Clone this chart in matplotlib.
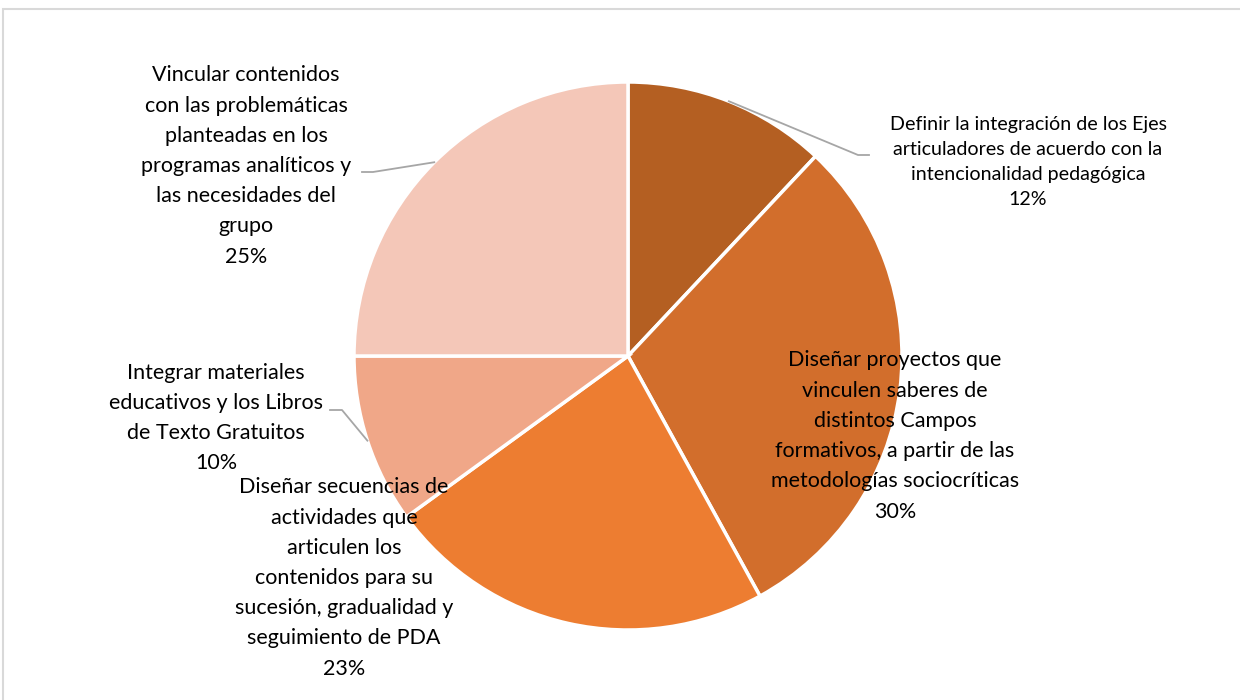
import numpy as np
import matplotlib
matplotlib.use("Agg")
import matplotlib.pyplot as plt
from matplotlib.patches import Rectangle

plt.rcParams['font.family'] = ['Lato', 'DejaVu Sans']

# data
labels = [
    "Definir la integración de los Ejes\narticuladores de acuerdo con la\nintencionalidad pedagógica",
    "Diseñar proyectos que\nvinculen saberes de\ndistintos Campos\nformativos, a partir de las\nmetodologías sociocríticas",
    "Diseñar secuencias de\nactividades que\narticulen los\ncontenidos para su\nsucesión, gradualidad y\nseguimiento de PDA",
    "Integrar materiales\neducativos y los Libros\nde Texto Gratuitos",
    "Vincular contenidos\ncon las problemáticas\nplanteadas en los\nprogramas analíticos y\nlas necesidades del\ngrupo",
]
values = [12, 30, 23, 10, 25]
colors = ["#B45F22", "#D26E2C", "#ED7D31", "#F0A788", "#F4C7B8"]

# label layout (pixel coords, y measured from top)
label_pos = [(1028, 162), (895, 436), (344, 578), (216, 418), (246, 166)]
label_size = [14.1, 15.5, 15.5, 15.5, 15.5]
label_ls = [1.56, 1.64, 1.64, 1.64, 1.64]
# leader elbows (None = no leader)
elbows = [[(858, 155), (869, 155)], None, None,
          [(342, 410), (330, 410)], [(373, 172), (362, 172)]]

W, H = 1240, 700
cx, cy, R = 628, 356, 274

fig = plt.figure(figsize=(12.4, 7), dpi=100)
ax = fig.add_axes([0, 0, 1, 1])
ax.axis("off")

wedges, _ = ax.pie(values, colors=colors, startangle=90, counterclock=False,
                   center=(cx, H - cy), radius=R,
                   wedgeprops=dict(edgecolor="white", linewidth=2.5))
ax.set_xlim(0, W)
ax.set_ylim(0, H)
ax.set_aspect("auto")

for i, w in enumerate(wedges):
    txt = labels[i] + "\n%d%%" % values[i]
    x, y = label_pos[i]
    ax.text(x, H - y, txt, ha="center", va="center", multialignment="center",
            fontsize=label_size[i], color="black", linespacing=label_ls[i], zorder=5)
    if elbows[i] is not None:
        ang = np.deg2rad((w.theta1 + w.theta2) / 2)
        px = cx + R * np.cos(ang)
        py = (H - cy) + R * np.sin(ang)
        xs = [px] + [p[0] for p in elbows[i]]
        ys = [py] + [H - p[1] for p in elbows[i]]
        ax.plot(xs, ys, color="#A6A6A6", lw=1.3, zorder=4)

ax.add_patch(Rectangle((3, -20), W + 20, H - 9 + 20, fill=False,
                       edgecolor="#D9D9D9", lw=1.5, zorder=6))

fig.savefig("out.png", dpi=100)
